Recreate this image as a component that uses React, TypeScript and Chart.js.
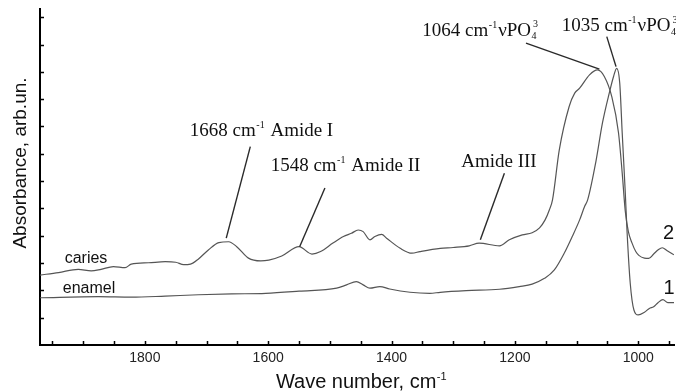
import React, { useEffect, useRef } from "react";
import Chart from "chart.js/auto";

// Wavenumber (cm-1) and absorbance (arb. units)
const CARIES_WN = [1970, 1940, 1908, 1887, 1871, 1851, 1832, 1822, 1794, 1767, 1750, 1737, 1726, 1713, 1697, 1680, 1664, 1651, 1632, 1612, 1599, 1578, 1550, 1529, 1515, 1495, 1478, 1465, 1454, 1446, 1435, 1427, 1416, 1408, 1386, 1367, 1354, 1321, 1300, 1274, 1258, 1225, 1209, 1188, 1172, 1160, 1151, 1144, 1139, 1128, 1112, 1103, 1095, 1079, 1066, 1055, 1043, 1032, 1026, 1021, 1016, 1010, 1004, 999, 990, 983, 975, 967, 961, 953, 942];
const CARIES_ABS = [2.56, 2.65, 2.77, 2.71, 2.77, 2.87, 2.83, 2.96, 3.01, 3.05, 3.03, 2.94, 2.96, 3.15, 3.48, 3.75, 3.78, 3.60, 3.18, 3.08, 3.11, 3.26, 3.60, 3.33, 3.42, 3.73, 3.97, 4.09, 4.21, 4.15, 3.85, 3.97, 4.05, 3.91, 3.54, 3.36, 3.42, 3.54, 3.57, 3.63, 3.73, 3.63, 3.85, 4.03, 4.11, 4.29, 4.58, 4.95, 5.31, 7.14, 8.73, 9.22, 9.40, 9.89, 10.07, 9.83, 9.10, 7.77, 6.30, 4.90, 4.15, 3.73, 3.42, 3.28, 3.18, 3.17, 3.33, 3.50, 3.56, 3.45, 3.30];

const ENAMEL_WN = [1970, 1875, 1822, 1767, 1713, 1659, 1604, 1550, 1489, 1473, 1457, 1446, 1435, 1419, 1403, 1370, 1338, 1321, 1279, 1225, 1193, 1172, 1152, 1136, 1120, 1107, 1095, 1087, 1082, 1069, 1058, 1047, 1040, 1035, 1030, 1026, 1021, 1018, 1013, 1007, 1000, 990, 982, 975, 968, 960, 952, 942];
const ENAMEL_ABS = [1.73, 1.77, 1.75, 1.79, 1.84, 1.87, 1.89, 1.97, 2.08, 2.20, 2.32, 2.20, 2.08, 2.14, 2.05, 1.93, 1.89, 1.93, 1.99, 2.04, 2.14, 2.23, 2.44, 2.75, 3.36, 3.97, 4.58, 5.07, 5.31, 6.67, 8.13, 9.22, 9.83, 10.13, 9.59, 7.77, 5.57, 4.10, 2.27, 1.28, 1.10, 1.20, 1.34, 1.40, 1.55, 1.66, 1.55, 1.55];

const X_MIN = 942;
const X_MAX = 1970;
const Y_MIN = 0;
const Y_MAX = 12.3;
const X_TICKS = [1950, 1900, 1850, 1800, 1750, 1700, 1650, 1600, 1550, 1500, 1450, 1400, 1350, 1300, 1250, 1200, 1150, 1100, 1050, 1000, 950];
const X_LABEL_STEP = 200;
const Y_TICKS = [1, 2, 3, 4, 5, 6, 7, 8, 9, 10, 11, 12];

const X_TITLE = "Wave number, cm";
const X_TITLE_SUP = "-1";
const Y_TITLE = "Absorbance, arb.un.";

type Part = { t: string; k: "n" | "sup" | "subsup"; sup?: string };

// Peak annotations: text anchor (baseline-left) and leader line, in data units
const ANNOTATIONS: { parts: Part[]; at: [number, number]; from: [number, number]; to: [number, number] }[] = [
  { parts: [{ t: "1668 cm", k: "n" }, { t: "-1", k: "sup" }, { t: " Amide I", k: "n" }], at: [1727, 7.66], from: [1629, 7.26], to: [1668, 3.91] },
  { parts: [{ t: "1548 cm", k: "n" }, { t: "-1", k: "sup" }, { t: " Amide II", k: "n" }], at: [1596, 6.37], from: [1508, 5.75], to: [1549, 3.60] },
  { parts: [{ t: "Amide III", k: "n" }], at: [1287, 6.53], from: [1217, 6.29], to: [1256, 3.85] },
  { parts: [{ t: "1064 cm", k: "n" }, { t: "-1", k: "sup" }, { t: "νPO", k: "n" }, { t: "4", k: "subsup", sup: "3" }], at: [1350, 11.32], from: [1182, 11.05], to: [1063, 10.10] },
  { parts: [{ t: "1035 cm", k: "n" }, { t: "-1", k: "sup" }, { t: "νPO", k: "n" }, { t: "4", k: "subsup", sup: "3" }], at: [1124, 11.48], from: [1051, 11.29], to: [1036, 10.19] },
];

const CURVE_LABELS: { t: string; at: [number, number]; size: number }[] = [
  { t: "caries", at: [1930, 3.01], size: 16 },
  { t: "enamel", at: [1933, 1.92], size: 16 },
  { t: "2", at: [960, 3.87], size: 20 },
  { t: "1", at: [959, 1.87], size: 20 },
];

const SERIF = "'Liberation Serif', 'DejaVu Serif', serif";
const SANS = "'Liberation Sans', Arial, sans-serif";
const LINE_COLOR = "#555";
const TEXT_COLOR = "#111";

function drawRich(ctx: CanvasRenderingContext2D, x: number, y: number, parts: Part[], size: number, family: string) {
  let cx = x;
  const small = Math.round(size * 0.55);
  for (const p of parts) {
    if (p.k === "n") {
      ctx.font = `${size}px ${family}`;
      ctx.fillText(p.t, cx, y);
      cx += ctx.measureText(p.t).width;
    } else if (p.k === "sup") {
      ctx.font = `${small}px ${family}`;
      ctx.fillText(p.t, cx + 0.5, y - size * 0.42);
      cx += ctx.measureText(p.t).width + 1.5;
    } else {
      ctx.font = `${small}px ${family}`;
      ctx.fillText(p.t, cx + 0.5, y + size * 0.18);
      ctx.fillText(p.sup || "", cx + 2, y - size * 0.45);
      cx += ctx.measureText(p.t).width + 3;
    }
  }
}

const overlay = {
  id: "overlay",
  afterDraw(chart: any) {
    const ctx: CanvasRenderingContext2D = chart.ctx;
    const xs = chart.scales.x;
    const ys = chart.scales.y;
    const area = chart.chartArea;
    ctx.save();
    // inward tick marks
    ctx.strokeStyle = "#000";
    ctx.lineWidth = 1.5;
    ctx.beginPath();
    for (const t of xs.ticks) {
      const px = Math.round(xs.getPixelForValue(t.value)) + 0.5;
      ctx.moveTo(px, area.bottom);
      ctx.lineTo(px, area.bottom - 4);
    }
    for (const t of ys.ticks) {
      const py = Math.round(ys.getPixelForValue(t.value)) + 0.5;
      ctx.moveTo(area.left, py);
      ctx.lineTo(area.left + 4, py);
    }
    ctx.stroke();

    // leader lines
    ctx.strokeStyle = "#2a2a2a";
    ctx.lineWidth = 1.4;
    for (const a of ANNOTATIONS) {
      ctx.beginPath();
      ctx.moveTo(xs.getPixelForValue(a.from[0]), ys.getPixelForValue(a.from[1]));
      ctx.lineTo(xs.getPixelForValue(a.to[0]), ys.getPixelForValue(a.to[1]));
      ctx.stroke();
    }
    // annotation text
    ctx.fillStyle = TEXT_COLOR;
    ctx.textBaseline = "alphabetic";
    ctx.textAlign = "left";
    for (const a of ANNOTATIONS) {
      drawRich(ctx, xs.getPixelForValue(a.at[0]), ys.getPixelForValue(a.at[1]), a.parts, 19, SERIF);
    }
    // curve labels
    for (const l of CURVE_LABELS) {
      ctx.font = `${l.size}px ${SANS}`;
      ctx.fillText(l.t, xs.getPixelForValue(l.at[0]), ys.getPixelForValue(l.at[1]));
    }
    // axis titles
    ctx.font = `20px ${SANS}`;
    const w = ctx.measureText(X_TITLE).width;
    ctx.font = `11px ${SANS}`;
    const ws = ctx.measureText(X_TITLE_SUP).width;
    const cx = (area.left + area.right) / 2 + 4 - (w + ws) / 2;
    drawRich(ctx, cx, chart.height - 4, [{ t: X_TITLE, k: "n" }, { t: X_TITLE_SUP, k: "sup" }], 20, SANS);

    ctx.save();
    ctx.translate(26, 163);
    ctx.rotate(-Math.PI / 2);
    ctx.font = `19px ${SANS}`;
    ctx.textAlign = "center";
    ctx.fillText(Y_TITLE, 0, 0);
    ctx.restore();
    ctx.restore();
  },
};

export default function App() {
  const ref = useRef<HTMLCanvasElement | null>(null);
  useEffect(() => {
    document.body.style.margin = "0";
    const canvas = ref.current!;
    const chart = new Chart(canvas, {
      type: "line",
      data: {
        datasets: [
          {
            label: "caries",
            data: CARIES_WN.map((x, i) => ({ x, y: CARIES_ABS[i] })),
            borderColor: LINE_COLOR,
            borderWidth: 1.2,
            pointRadius: 0,
            cubicInterpolationMode: "monotone",
            fill: false,
          },
          {
            label: "enamel",
            data: ENAMEL_WN.map((x, i) => ({ x, y: ENAMEL_ABS[i] })),
            borderColor: LINE_COLOR,
            borderWidth: 1.2,
            pointRadius: 0,
            cubicInterpolationMode: "monotone",
            fill: false,
          },
        ],
      },
      options: {
        responsive: false,
        animation: false,
        layout: { padding: { left: 0, right: 2, top: 9, bottom: 0 } },
        plugins: { legend: { display: false }, tooltip: { enabled: false } },
        scales: {
          x: {
            type: "linear",
            reverse: true,
            min: X_MIN,
            max: X_MAX,
            afterBuildTicks: (s: any) => {
              s.ticks = X_TICKS.map((v) => ({ value: v }));
            },
            afterFit: (s: any) => {
              s.height = 47;
            },
            grid: { display: false, drawTicks: false },
            border: { display: true, color: "#000", width: 2 },
            ticks: {
              autoSkip: false,
              maxRotation: 0,
              padding: 5,
              color: "#222",
              font: { family: SANS, size: 14 },
              callback: (v: any) => (Number(v) % X_LABEL_STEP === 0 ? String(v) : ""),
            },
          },
          y: {
            type: "linear",
            min: Y_MIN,
            max: Y_MAX,
            afterBuildTicks: (s: any) => {
              s.ticks = Y_TICKS.map((v) => ({ value: v }));
            },
            afterFit: (s: any) => {
              s.width = 40;
            },
            grid: { display: false, drawTicks: false },
            border: { display: true, color: "#000", width: 2 },
            ticks: { display: false },
          },
        },
      },
      plugins: [overlay],
    } as any);
    return () => chart.destroy();
  }, []);
  return (
    <div style={{ position: "absolute", left: 0, top: 0, width: 676, height: 392, background: "#fff" }}>
      <canvas ref={ref} width={676} height={392} style={{ display: "block" }} />
    </div>
  );
}
